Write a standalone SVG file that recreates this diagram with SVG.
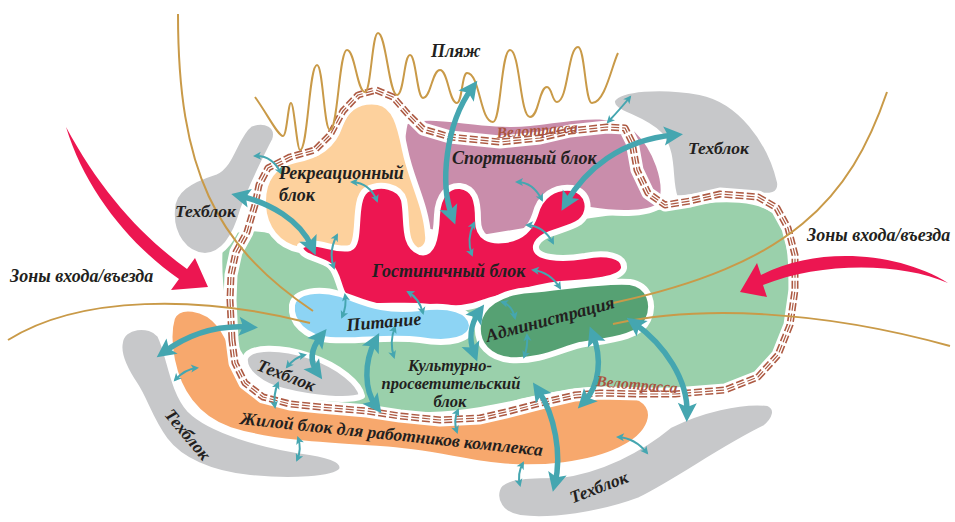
<svg xmlns="http://www.w3.org/2000/svg" width="955" height="522" viewBox="0 0 955 522">
<defs>
<style>
.blk{stroke:#fff;stroke-width:6;stroke-linejoin:round}
.g{fill:#9ad0ab}.dg{fill:#56a173}.red{fill:#ed1651}.pe{fill:#fdd19d}.mv{fill:#c98dab}.bl{fill:#8dd4f4}.or{fill:#f7a86d}.gr{fill:#c7c8ca}
.rw{fill:none;stroke:#fff;stroke-width:13;stroke-linejoin:round}
.rb{fill:none;stroke:#ad5a43;stroke-width:7;stroke-dasharray:8 3;stroke-linejoin:round}
.rw2{fill:none;stroke:#fff;stroke-width:3.8;stroke-linejoin:round}
.rc{fill:none;stroke:#ad5a43;stroke-width:1.2;stroke-dasharray:8 3;stroke-linejoin:round}
.gold{fill:none;stroke:#c99a48;stroke-width:2}
.ent{fill:#ec1651}
.ba{fill:none;stroke:#45a6b0;stroke-width:5.5;marker-start:url(#bh);marker-end:url(#bh)}
.sa{fill:none;stroke:#45a6b0;stroke-width:2;marker-start:url(#sh);marker-end:url(#sh)}
.t{font-family:"Liberation Serif","DejaVu Serif",serif;font-weight:bold;font-style:italic;fill:#231f20;font-size:18px}
.s17{font-size:17.5px}
.s16{font-size:16.5px}
.v{fill:#a9543f;font-size:15.5px}
</style>
<marker id="bh" viewBox="-20 -10 22 20" refX="-9" refY="0" markerWidth="22" markerHeight="20" markerUnits="userSpaceOnUse" orient="auto-start-reverse"><path d="M0,0 L-19,-9.5 L-15,0 L-19,9.5 Z" fill="#45a6b0"/></marker>
<marker id="sh" viewBox="-9 -5 10 10" refX="-2" refY="0" markerWidth="10" markerHeight="10" markerUnits="userSpaceOnUse" orient="auto-start-reverse"><path d="M0,0 L-8,-4 L-6,0 L-8,4 Z" fill="#45a6b0"/></marker>
<path id="road" d="M 232,340 L 230,300 L 231,275 L 236,252 L 247,232 L 255,205 L 259,185 L 268,168 L 290,157 L 315,150 L 330,135 L 343,111 L 358,95 L 376,90 L 393,97 L 407,113 L 423,129 L 450,137 L 500,142 L 540,138 L 570,131 L 607,127 L 625,128 L 632,142 L 637,170 L 648,193 L 665,205 L 690,201 L 720,194 L 758,197 L 777,208 L 788,228 L 795,255 L 795,290 L 790,325 L 778,355 L 758,377 L 725,390 L 675,394 L 640,394 L 600,393 L 575,395 L 545,402 L 510,411 L 480,418 L 440,420 L 400,416 L 367,411 L 320,407 L 290,404 L 263,397 L 245,383 L 235,363 Z"/>
</defs>

<g id="culture-block"><path class="blk g" d="M 220,242 C 224,228 252,225 276,232 C 290,236 298,242 305,248 L 530,246 C 535,232 545,225 560,220 C 600,213 640,208 680,205 C 720,196 765,196 782,218 C 794,245 795,310 785,348 C 775,375 745,388 700,391 C 650,393 610,386 570,392 C 525,400 480,414 430,415 C 380,415 330,408 295,397 C 268,388 248,370 238,352 C 224,325 217,285 220,242 Z"/></g>
<g id="sport-block"><path class="blk mv" d="M 405,122 C 430,110 480,128 530,123 C 575,118 612,108 637,130 C 656,148 668,182 662,202 C 655,216 615,214 590,210 L 560,225 L 470,240 L 420,230 C 405,200 398,150 405,122 Z"/></g>
<g id="recreation-block"><path class="blk pe" d="M 263,205 C 262,180 272,165 295,160 C 318,156 333,146 340,125 C 347,106 362,100 378,102 C 395,105 400,125 405,150 C 411,180 426,205 428,235 C 430,250 418,254 405,248 L 300,250 C 278,246 264,228 263,205 Z"/></g>
<g id="hotel-block"><path class="blk red" d="M 300,246 C 315,238 335,252 350,248 C 362,244 352,200 366,190 C 380,182 400,186 404,200 C 408,220 402,245 420,252 C 432,255 436,240 437,215 C 438,195 448,185 460,186 C 475,188 478,200 478,220 C 478,238 490,242 505,240 C 520,238 530,230 535,215 C 540,195 555,186 572,188 C 590,192 592,212 580,222 C 565,232 540,232 536,246 C 534,258 560,260 585,256 C 605,252 625,255 624,268 C 622,280 590,282 560,284 C 530,288 505,296 485,302 C 470,308 455,310 430,307 C 400,303 370,310 350,302 C 338,295 340,275 330,266 C 320,258 300,258 300,246 Z"/></g>
<g id="food-block"><path class="blk bl" d="M 292,305 C 295,290 320,288 340,294 C 360,300 380,313 420,308 C 450,304 470,310 472,325 C 472,340 450,345 420,340 C 390,336 360,342 330,340 C 305,338 290,322 292,305 Z"/></g>
<g id="admin-block"><path class="blk dg" d="M 478,325 C 480,305 500,292 530,290 C 560,288 600,280 630,282 C 650,285 655,305 648,320 C 640,338 610,340 580,345 C 560,350 540,362 510,360 C 490,358 476,345 478,325 Z"/></g>
<g id="staff-housing"><path class="blk or" d="M 172,318 C 178,303 205,306 220,325 C 235,345 240,375 262,392 C 290,405 340,408 400,415 C 440,420 470,418 520,402 C 560,392 610,385 640,398 C 660,410 652,435 620,450 C 590,465 540,470 500,466 C 460,462 430,452 380,449 C 330,446 270,443 230,430 C 195,418 178,390 172,360 C 168,340 169,328 172,318 Z"/></g>
<g id="techblock-topleft"><path class="blk gr" d="M 172,210 C 172,190 190,180 215,172 C 232,165 235,135 250,124 C 265,118 280,125 275,140 C 265,160 252,185 243,210 C 236,235 225,255 205,256 C 185,255 170,235 172,210 Z"/></g>
<g id="techblock-topright"><path class="blk gr" d="M 612,100 C 620,88 660,85 700,92 C 740,100 770,140 780,182 C 782,196 770,198 750,194 C 720,188 690,200 675,198 C 668,180 675,155 660,135 C 640,115 610,115 612,100 Z"/></g>
<g id="techblock-bottomleft"><path class="blk gr" d="M 120,342 C 122,325 150,322 160,335 C 170,355 172,390 190,410 C 210,430 260,445 310,452 C 335,456 345,462 342,470 C 335,480 290,482 250,478 C 210,474 180,460 165,440 C 150,420 145,400 135,385 C 125,370 117,355 120,342 Z"/></g>
<g id="techblock-small"><path class="blk gr" d="M 245,358 C 250,346 280,346 310,356 C 340,366 360,384 362,396 C 350,402 310,398 283,391 C 262,386 243,372 245,358 Z"/></g>
<g id="techblock-bottomright"><path class="blk gr" d="M 497,490 C 500,475 530,475 560,475 C 600,470 640,450 670,425 C 700,410 740,400 768,403 C 780,408 775,420 765,428 C 720,450 680,480 640,500 C 600,515 550,522 520,518 C 500,515 494,500 497,490 Z"/></g>

<g id="cycle-track">
<use href="#road" class="rw"/>
<use href="#road" class="rb"/>
<use href="#road" class="rw2"/>
<use href="#road" class="rc"/>
</g>

<g id="lines">
<path class="gold" d="M 178,14 C 178,170 215,245 313,311"/>
<path class="gold" d="M 8,340 C 80,295 200,295 310,323"/>
<path class="gold" d="M 887,92 C 850,200 790,265 613,303"/>
<path class="gold" d="M 613,324 C 700,305 820,310 950,346"/>
<path class="gold" d="M 255,97 C 268,115 278,136 283,136 C 287,136 288,103 291,103 C 294,103 297,150 300,150 C 308,150 309,65 317,65 C 323,65 324,130 330,130 C 338,130 339,50 347,50 C 355,50 357,92 365,92 C 371,92 372,33 378,33 C 386,33 389,95 397,95 C 404,95 404,55 410,55 C 416,55 417,98 423,98 C 431,98 432,70 440,70 C 448,70 449,103 457,103 C 462,103 462,73 467,73 C 480,73 480,122 493,122 C 501,122 501,50 510,50 C 520,50 520,117 530,117 C 539,117 539,87 547,87 C 552,87 552,102 557,102 C 568,102 568,47 578,47 C 585,47 585,103 592,103 C 605,103 612,65 618,53"/>
</g>

<g id="entries">
<path class="ent" d="M 66,127 C 85,190 130,245 179,279 L 171,290 L 208,287 L 195,258 L 187,269 C 140,235 100,190 66,127 Z"/>
<path class="ent" d="M 948,283 C 900,253 820,245 761,275 L 757,263 L 740,292 L 767,297 L 763,285 C 820,262 900,262 948,283 Z"/>
</g>

<g id="connectors">
<path class="ba" d="M 472,88 C 445,125 440,185 452,216"/>
<path class="ba" d="M 566,203 C 585,170 620,140 674,135"/>
<path class="ba" d="M 240,196 C 270,203 300,220 312,247"/>
<path class="ba" d="M 164,352 C 190,333 220,325 249,327"/>
<path class="ba" d="M 321,336 C 310,350 310,362 317,372"/>
<path class="ba" d="M 375,341 C 364,362 364,390 376,406"/>
<path class="ba" d="M 479,312 C 470,325 469,340 474,353"/>
<path class="ba" d="M 593,335 C 602,358 600,385 584,402"/>
<path class="ba" d="M 634,323 C 665,345 688,380 687,413"/>
<path class="ba" d="M 538,390 C 555,415 562,455 555,483"/>
<path class="sa" d="M 255,156 Q 272,155 281,173"/>
<path class="sa" d="M 352,182 Q 370,183 377,201"/>
<path class="sa" d="M 337,235 Q 328,252 334,268"/>
<path class="sa" d="M 517,182 Q 533,182 542,200"/>
<path class="sa" d="M 474,223 Q 466,240 472,255"/>
<path class="sa" d="M 527,225 Q 544,226 553,243"/>
<path class="sa" d="M 630,97 Q 622,107 608,122"/>
<path class="sa" d="M 533,270 Q 550,272 560,288"/>
<path class="sa" d="M 408,292 Q 419,298 423,313"/>
<path class="sa" d="M 345,295 Q 347,306 342,317"/>
<path class="sa" d="M 502,302 Q 512,305 515,318"/>
<path class="sa" d="M 527,335 Q 528,347 524,357"/>
<path class="sa" d="M 395,327 Q 389,342 394,357"/>
<path class="sa" d="M 305,355 Q 295,357 287,367"/>
<path class="sa" d="M 278,383 Q 273,395 275,407"/>
<path class="sa" d="M 197,368 Q 185,369 175,380"/>
<path class="sa" d="M 298,438 Q 302,449 297,460"/>
<path class="sa" d="M 458,410 Q 453,421 457,432"/>
<path class="sa" d="M 523,463 Q 517,474 520,485"/>
<path class="sa" d="M 618,437 Q 635,438 647,453"/>
</g>

<g id="labels">
<text class="t" x="431" y="57">Пляж</text>
<text class="t v" transform="translate(497,138) rotate(-4)">Велотрасса</text>
<text class="t" x="452" y="164">Спортивный блок</text>
<text class="t s17" x="688" y="154">Техблок</text>
<text class="t" x="279" y="179">Рекреационный</text>
<text class="t" x="279" y="201">блок</text>
<text class="t s17" x="175" y="217">Техблок</text>
<text class="t" x="10" y="282">Зоны входа/въезда</text>
<text class="t" x="807" y="241">Зоны входа/въезда</text>
<text class="t" x="372" y="277">Гостиничный блок</text>
<text class="t" transform="translate(347,331) rotate(-5)">Питание</text>
<text class="t" text-anchor="middle" transform="translate(550,319) rotate(-15)" y="6">Администрация</text>
<text class="t s16" text-anchor="middle" x="450" y="371">Культурно-</text>
<text class="t s16" text-anchor="middle" x="451" y="389">просветительский</text>
<text class="t s16" text-anchor="middle" x="450" y="407">блок</text>
<text class="t v" transform="translate(596,386) rotate(5)">Велотрасса</text>
<text class="t s17" text-anchor="middle" transform="translate(286,376) rotate(21)" y="5">Техблок</text>
<text class="t s17" text-anchor="middle" transform="translate(187,435) rotate(50)" y="5">Техблок</text>
<text class="t s17" text-anchor="middle" transform="translate(391,440) rotate(6)">Жилой блок для работников комплекса</text>
<text class="t s17" text-anchor="middle" transform="translate(599,488) rotate(-21)" y="5">Техблок</text>
</g>
</svg>
